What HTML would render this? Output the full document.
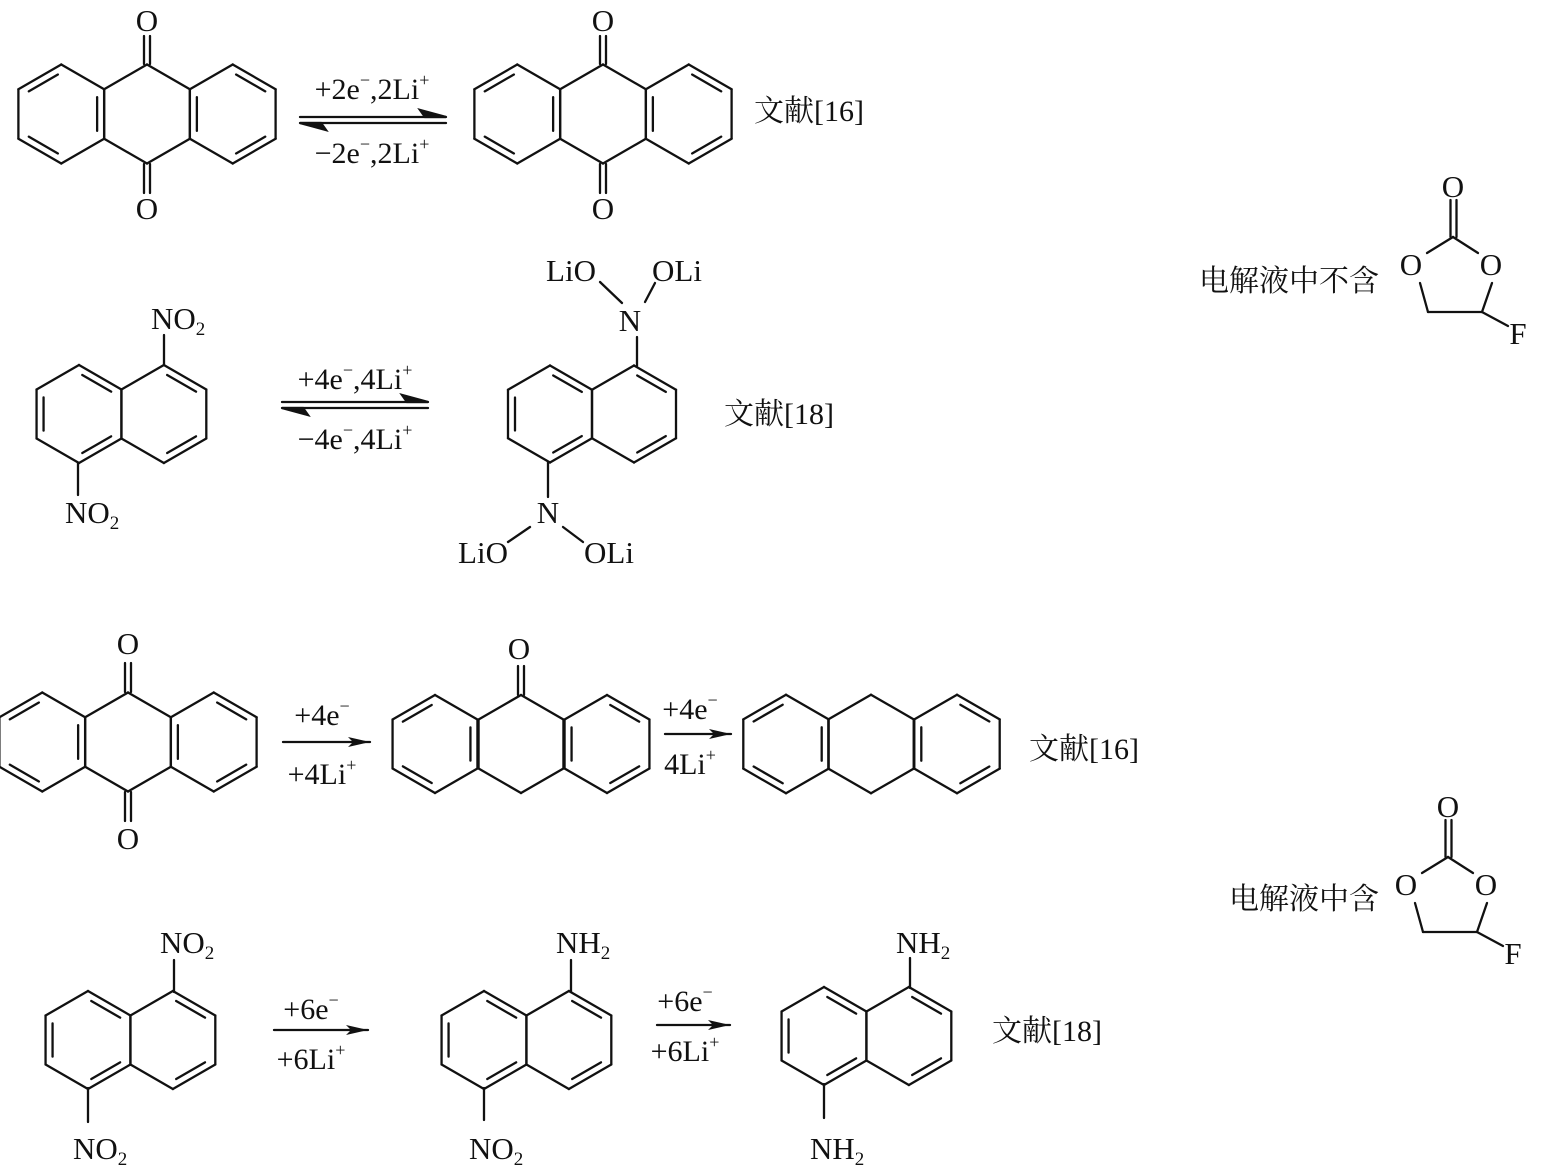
<!DOCTYPE html>
<html><head><meta charset="utf-8">
<style>
html,body{margin:0;padding:0;background:#fff;}
svg{display:block;}
text{font-family:"Liberation Serif","Noto Serif CJK SC",serif;fill:#111;}
.cj{font-family:"Liberation Serif","Noto Serif CJK SC","Noto Sans CJK SC",serif;}
</style></head>
<body>
<svg id="s" width="1542" height="1167" viewBox="0 0 1542 1167" xmlns="http://www.w3.org/2000/svg">
<defs>
<marker id="ah" viewBox="0 0 22 10" refX="22" refY="5" markerWidth="22" markerHeight="10" markerUnits="userSpaceOnUse" orient="auto"><path d="M0,0 L22,5 L0,10 L5,5 Z" fill="#111"/></marker>
</defs>
<g id="g" stroke="#111" stroke-width="2.3" fill="none" stroke-linecap="round"></g>
<g id="t"></g>
<text class="cj" x="754" y="121" font-size="30">文献[16]</text>
<text class="cj" x="724" y="424" font-size="30">文献[18]</text>
<text class="cj" x="1029" y="759" font-size="30">文献[16]</text>
<text class="cj" x="992" y="1041" font-size="30">文献[18]</text>
<text class="cj" x="1199" y="291" font-size="30">电解液中不含</text>
<text class="cj" x="1229" y="909" font-size="30">电解液中含</text>
</svg>
<script>
var G=document.getElementById('g'),T=document.getElementById('t');
var NS='http://www.w3.org/2000/svg';
function L(x1,y1,x2,y2){var e=document.createElementNS(NS,'line');e.setAttribute('x1',x1);e.setAttribute('y1',y1);e.setAttribute('x2',x2);e.setAttribute('y2',y2);G.appendChild(e);return e;}
function ring(cx,cy,s,sx,dbl){
  sx=sx||1;var v=[];
  for(var i=0;i<6;i++){var a=(-90+60*i)*Math.PI/180;v.push([cx+sx*s*Math.cos(a),cy+s*Math.sin(a)]);}
  for(var i=0;i<6;i++){var a=v[i],b=v[(i+1)%6];L(a[0],a[1],b[0],b[1]);}
  (dbl||[]).forEach(function(i){
    var a=v[i],b=v[(i+1)%6];
    var mx=(a[0]+b[0])/2,my=(a[1]+b[1])/2,dx=cx-mx,dy=cy-my,d=Math.hypot(dx,dy);
    var ox=dx/d*7,oy=dy/d*7,k=0.16;
    L(a[0]+(b[0]-a[0])*k+ox,a[1]+(b[1]-a[1])*k+oy,b[0]-(b[0]-a[0])*k+ox,b[1]-(b[1]-a[1])*k+oy);
  });
  return v;
}
function txt(html){T.insertAdjacentHTML('beforeend',html);}
function atom(x,y,s,anchor){txt('<text x="'+x+'" y="'+(y+11)+'" font-size="31" text-anchor="'+(anchor||'middle')+'">'+s+'</text>');}
var SUB2='<tspan font-size="19" dy="6">2</tspan>';
function anthraQ(cx,cy,s){
  ring(cx-s*Math.sqrt(3),cy,s,1,[5,3,1]);
  ring(cx,cy,s,1,[]);
  ring(cx+s*Math.sqrt(3),cy,s,1,[0,2,4]);
}
function dblV(x,y1,y2){L(x-3,y1,x-3,y2);L(x+3,y1,x+3,y2);}
function naph(lx,cy,s,sx){
  var w=s*Math.sqrt(3)*(sx||1);
  ring(lx,cy,s,sx,[0,2,4]);ring(lx+w,cy,s,sx,[0,2]);
}
function arrow(x1,x2,y){var e=L(x1,y,x2-2,y);e.setAttribute('marker-end','url(#ah)');}
function eqArrow(x1,x2,y){
  L(x1,y-3,x2,y-3);var p=document.createElementNS(NS,'path');p.setAttribute('d','M'+x2+','+(y-3)+' L'+(x2-26)+','+(y-10)+' L'+(x2-21)+','+(y-3)+'Z');p.setAttribute('fill','#111');G.appendChild(p);
  L(x1,y+3,x2,y+3);var q=document.createElementNS(NS,'path');q.setAttribute('d','M'+x1+','+(y+3)+' L'+(x1+26)+','+(y+10)+' L'+(x1+21)+','+(y+3)+'Z');q.setAttribute('fill','#111');G.appendChild(q);
}
function lab(x,y,s){txt('<text x="'+x+'" y="'+(y+11)+'" font-size="30" text-anchor="middle">'+s+'</text>');}
var SUPM='<tspan font-size="18" dy="-13">−</tspan><tspan dy="13">',SUPP='<tspan font-size="18" dy="-13">+</tspan>';

// Row 1
anthraQ(147,114,49.5); dblV(147,36,64); dblV(147,164,193); atom(147,20,'O'); atom(147,208,'O');
eqArrow(300,446,120);
lab(372,88,'+2e'+SUPM+',2Li</tspan>'+SUPP);
lab(372,152,'−2e'+SUPM+',2Li</tspan>'+SUPP);
anthraQ(603,114,49.5); dblV(603,36,64); dblV(603,164,193); atom(603,20,'O'); atom(603,208,'O');

// Row 2
naph(79,414,49);
L(164,365,164,335); atom(151,318,'NO'+SUB2,'start');
L(78,463,78,495); atom(65,512,'NO'+SUB2,'start');
eqArrow(282,428,405);
lab(355,378,'+4e'+SUPM+',4Li</tspan>'+SUPP);
lab(355,438,'−4e'+SUPM+',4Li</tspan>'+SUPP);
naph(550,414,48.5);
L(637,366,637,337); atom(630,320,'N');
L(600,282,622,303); L(645,302,655,283);
atom(571,270,'LiO'); atom(677,270,'OLi');
L(548,462,548,497); atom(548,512,'N');
L(530,527,508,542); L(563,527,583,542);
atom(483,552,'LiO'); atom(609,552,'OLi');

// Row 3
anthraQ(128,742,49.5); dblV(128,663,692); dblV(128,792,821); atom(128,643,'O'); atom(128,838,'O');
arrow(283,372,742);
lab(322,714,'+4e<tspan font-size="18" dy="-13">−</tspan>');
lab(322,773,'+4Li'+SUPP);
ring(435,744,49,1,[5,3,1]); ring(521,744,49,1,[]); ring(607,744,49,1,[0,2,4]);
dblV(521,666,695); atom(519,648,'O');
arrow(665,733,734);
lab(690,708,'+4e<tspan font-size="18" dy="-13">−</tspan>');
lab(690,763,'4Li'+SUPP);
ring(786,744,49.3,1,[5,3,1]); ring(871,744,49.3,1,[]); ring(957,744,49.3,1,[0,2,4]);

// Row 4
naph(88,1040,49);
L(174,992,174,960); atom(160,942,'NO'+SUB2,'start');
L(88,1088,88,1122); atom(73,1148,'NO'+SUB2,'start');
arrow(274,370,1030);
lab(311,1008,'+6e<tspan font-size="18" dy="-13">−</tspan>');
lab(311,1058,'+6Li'+SUPP);
naph(484,1040,49);
L(571,992,571,960); atom(556,942,'NH'+SUB2,'start');
L(484,1088,484,1120); atom(469,1148,'NO'+SUB2,'start');
arrow(657,732,1025);
lab(685,1000,'+6e<tspan font-size="18" dy="-13">−</tspan>');
lab(685,1050,'+6Li'+SUPP);
naph(824,1036,49);
L(910,988,910,958); atom(896,942,'NH'+SUB2,'start');
L(824,1084,824,1118); atom(810,1148,'NH'+SUB2,'start');

// FEC
function fec(dx,dy){
  L(1450.5+dx,200+dy,1450.5+dx,237+dy);L(1456.5+dx,200+dy,1456.5+dx,237+dy);
  L(1453+dx,237+dy,1427+dx,253+dy);L(1453+dx,237+dy,1478+dx,253+dy);
  L(1420+dx,283+dy,1428+dx,312+dy);L(1428+dx,312+dy,1482+dx,312+dy);
  L(1482+dx,312+dy,1492+dx,283+dy);L(1482+dx,312+dy,1508+dx,326+dy);
  atom(1453+dx,186+dy,'O');atom(1411+dx,264+dy,'O');atom(1491+dx,264+dy,'O');atom(1518+dx,333+dy,'F');
}
fec(0,0); fec(-5,620);
</script>
</body></html>
